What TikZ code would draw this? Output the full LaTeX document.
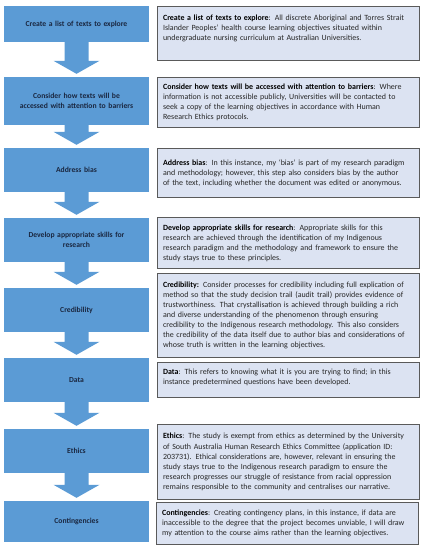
\documentclass[tikz,border=0pt]{standalone}
\usepackage{fontspec}
\setmainfont{Carlito}
\usetikzlibrary{calc, positioning}
\definecolor{StepBlue}{HTML}{5B9BD5}
\definecolor{StepText}{HTML}{1A2740}
\definecolor{NoteFill}{HTML}{DCE3F2}
\definecolor{NoteEdge}{HTML}{5A5A5A}
\definecolor{NoteText}{HTML}{262626}

\begin{document}
\begin{tikzpicture}[x=1pt, y=-1pt,
    stepbox/.style={fill=StepBlue, rectangle, minimum width=145pt, inner sep=2pt,
      text width=141pt, align=center, text=StepText,
      font=\fontsize{7.65}{10.5}\selectfont\bfseries},
    notebox/.style={draw=NoteEdge, line width=1.1pt, fill=NoteFill, rectangle, anchor=north west,
      inner xsep=5.5pt, inner ysep=3pt, text width=251pt, align=left, text=NoteText,
      font=\fontsize{7.95}{10.1}\selectfont}]
  \useasboundingbox (0,0) rectangle (424,550);

  % Steps
  \node [stepbox, minimum height=36pt] (s1) at (76.5,24) {\raisebox{-2.5pt}{Create a list of texts to explore}};
  \node [stepbox, minimum height=48pt] (s2) at (76.5,101) {Consider how texts will be\\accessed with attention to barriers};
  \node [stepbox, minimum height=44pt] (s3) at (76.5,170) {Address bias};
  \node [stepbox, minimum height=44pt] (s4) at (76.5,240) {Develop appropriate skills for\\research};
  \node [stepbox, minimum height=44pt] (s5) at (76.5,310) {Credibility};
  \node [stepbox, minimum height=44pt] (s6) at (76.5,380) {Data};
  \node [stepbox, minimum height=44pt] (s7) at (76.5,451) {Ethics};
  \node [stepbox, minimum height=41pt] (s8) at (76.5,521.5) {Contingencies};

  % Notes
  \node [notebox, minimum height=54pt] (n1) at (157,6) {\textbf{\color{black}Create a list of texts to explore}: All discrete Aboriginal and Torres Strait\\
    Islander Peoples’ health course learning objectives situated within\\
    undergraduate nursing curriculum at Australian Universities.\par\vspace{11pt}};
  \node [notebox, minimum height=50pt] (n2) at (157,77) {\textbf{\color{black}Consider how texts will be accessed with attention to barriers}: Where\\
    information is not accessible publicly, Universities will be contacted to\\
    seek a copy of the learning objectives in accordance with Human\\
    Research Ethics protocols.};
  \node [notebox, minimum height=49pt] (n3) at (157,148) {\textbf{\color{black}Address bias}: In this instance, my ‘bias’ is part of my research paradigm\\
    and methodology; however, this step also considers bias by the author\\
    of the text, including whether the document was edited or anonymous.};
  \node [notebox, minimum height=51pt] (n4) at (157,217) {\textbf{\color{black}Develop appropriate skills for research}: Appropriate skills for this\\
    research are achieved through the identification of my Indigenous\\
    research paradigm and the methodology and framework to ensure the\\
    study stays true to these principles.};
  \node [notebox, minimum height=84pt] (n5) at (157,273) {\textbf{\color{black}Credibility:} Consider processes for credibility including full explication of\\
    method so that the study decision trail (audit trail) provides evidence of\\
    trustworthiness. That crystallisation is achieved through building a rich\\
    and diverse understanding of the phenomenon through ensuring\\
    credibility to the Indigenous research methodology. This also considers\\
    the credibility of the data itself due to author bias and considerations of\\
    whose truth is written in the learning objectives.};
  \node [notebox, minimum height=35pt] (n6) at (157,362) {\textbf{\color{black}Data}: This refers to knowing what it is you are trying to find; in this\\
    instance predetermined questions have been developed.\par\vspace{5pt}};
  \node [notebox, minimum height=75pt] (n7) at (157,424) {\textbf{\color{black}Ethics}: The study is exempt from ethics as determined by the University\\
    of South Australia Human Research Ethics Committee (application ID:\\
    203731). Ethical considerations are, however, relevant in ensuring the\\
    study stays true to the Indigenous research paradigm to ensure the\\
    research progresses our struggle of resistance from racial oppression\\
    remains responsible to the community and centralises our narrative.};
  \node [notebox, minimum height=42pt] (n8) at (156,502) {\textbf{\color{black}Contingencies}: Creating contingency plans, in this instance, if data are\\
    inaccessible to the degree that the project becomes unviable, I will draw\\
    my attention to the course aims rather than the learning objectives.};

  % Block arrows
  \foreach \a/\b in {s1/s2, s2/s3, s3/s4, s4/s5, s5/s6, s6/s7, s7/s8}
    \fill[StepBlue] ($(\a.south)+(-12,0)$) -- ($(\a.south)+(12,0)$) -- ($(\b.north)+(12,-16)$)
      -- ($(\b.north)+(23,-16)$) -- ($(\b.north)+(0,-3)$) -- ($(\b.north)+(-23,-16)$)
      -- ($(\b.north)+(-12,-16)$) -- cycle;
\end{tikzpicture}
\end{document}
